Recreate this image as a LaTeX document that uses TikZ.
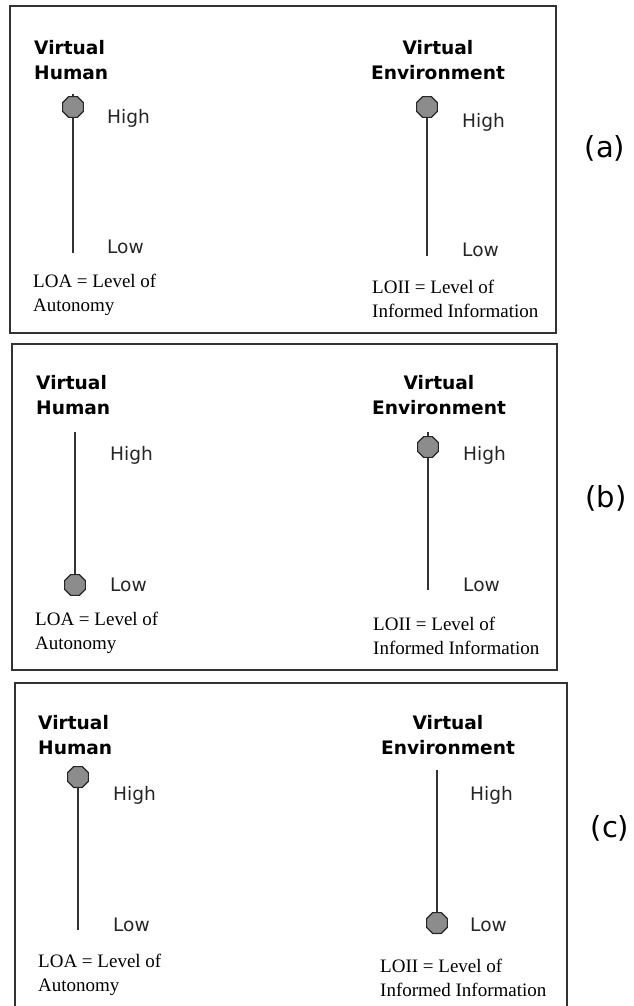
\documentclass[tikz,border=0pt]{standalone}
\usepackage{fontspec}
\setmainfont{Liberation Serif}
\setsansfont{DejaVu Sans}
\usetikzlibrary{shapes.geometric}
\tikzstyle{frame} = [draw=black!80, line width=1.5pt]
\tikzstyle{heading} = [font=\sffamily\bfseries\fontsize{18.6}{25}\selectfont,
    inner sep=0pt]
\tikzstyle{level} = [font=\sffamily\fontsize{18.6}{22}\selectfont,
    text=black!85, inner sep=0pt, anchor=west]
\tikzstyle{note} = [font=\fontsize{19}{24}\selectfont, inner sep=0pt,
    anchor=west, align=left]
\tikzstyle{slider} = [draw=black!80, line width=1.5pt]
\tikzstyle{knob} = [regular polygon, regular polygon sides=8, draw=black!85,
    fill=black!45, line width=1.2pt, minimum size=22.5pt, inner sep=0pt]
\tikzstyle{tag} = [font=\sffamily\fontsize{29}{32}\selectfont, inner sep=0pt]

\begin{document}
\begin{tikzpicture}[x=1pt, y=-1pt]
\useasboundingbox (0,0) rectangle (634,1006);

% (a)
\draw [frame] (10,6) rectangle (556,333);
\node [heading, anchor=west, align=left] (vhA) at (34,60) {Virtual\\Human};
\node [heading, align=center] (veA) at (438,60) {Virtual\\Environment};
\coordinate (vhtopA) at (73,94);
\coordinate (vhbotA) at (73,253);
\draw [slider] (vhtopA) -- (vhbotA);
\node [knob] (vhknobA) at (73,107) {};
\node [level] (vhhighA) at (107,118) {High};
\node [level] (vhlowA) at (107,247) {Low};
\node [note] (loaA) at (33,295) {LOA = Level of\\Autonomy};
\coordinate (vetopA) at (427,96);
\coordinate (vebotA) at (427,256);
\draw [slider] (vetopA) -- (vebotA);
\node [knob] (veknobA) at (427,107) {};
\node [level] (vehighA) at (462,122) {High};
\node [level] (velowA) at (462,250) {Low};
\node [note] (loiiA) at (372,299) {LOII = Level of\\Informed Information};
\node [tag] (tagA) at (605,148) {(a)};

% (b)
\draw [frame] (12,344) rectangle (557,670);
\node [heading, anchor=west, align=left] (vhB) at (36,395) {Virtual\\Human};
\node [heading, align=center] (veB) at (439,395) {Virtual\\Environment};
\coordinate (vhtopB) at (75,432);
\coordinate (vhbotB) at (75,585);
\draw [slider] (vhtopB) -- (vhbotB);
\node [knob] (vhknobB) at (vhbotB) {};
\node [level] (vhhighB) at (110,455) {High};
\node [level] (vhlowB) at (110,585) {Low};
\node [note] (loaB) at (35,633) {LOA = Level of\\Autonomy};
\coordinate (vetopB) at (428,432);
\coordinate (vebotB) at (428,590);
\draw [slider] (vetopB) -- (vebotB);
\node [knob] (veknobB) at (428,447) {};
\node [level] (vehighB) at (463,455) {High};
\node [level] (velowB) at (463,585) {Low};
\node [note] (loiiB) at (373,636) {LOII = Level of\\Informed Information};
\node [tag] (tagB) at (606,498) {(b)};

% (c)
\begin{scope}
\clip (0,0) rectangle (634,1006);
\draw [frame] (15,683) rectangle (567,1014);
\end{scope}
\node [heading, anchor=west, align=left] (vhC) at (38,735) {Virtual\\Human};
\node [heading, align=center] (veC) at (448,735) {Virtual\\Environment};
\coordinate (vhtopC) at (78,770);
\coordinate (vhbotC) at (78,930);
\draw [slider] (vhtopC) -- (vhbotC);
\node [knob] (vhknobC) at (78,777) {};
\node [level] (vhhighC) at (113,795) {High};
\node [level] (vhlowC) at (113,925) {Low};
\node [note] (loaC) at (38,975) {LOA = Level of\\Autonomy};
\coordinate (vetopC) at (437,770);
\coordinate (vebotC) at (437,923);
\draw [slider] (vetopC) -- (vebotC);
\node [knob] (veknobC) at (vebotC) {};
\node [level] (vehighC) at (470,795) {High};
\node [level] (velowC) at (470,925) {Low};
\node [note] (loiiC) at (380,978) {LOII = Level of\\Informed Information};
\node [tag] (tagC) at (610,828) {(c)};
\end{tikzpicture}
\end{document}
